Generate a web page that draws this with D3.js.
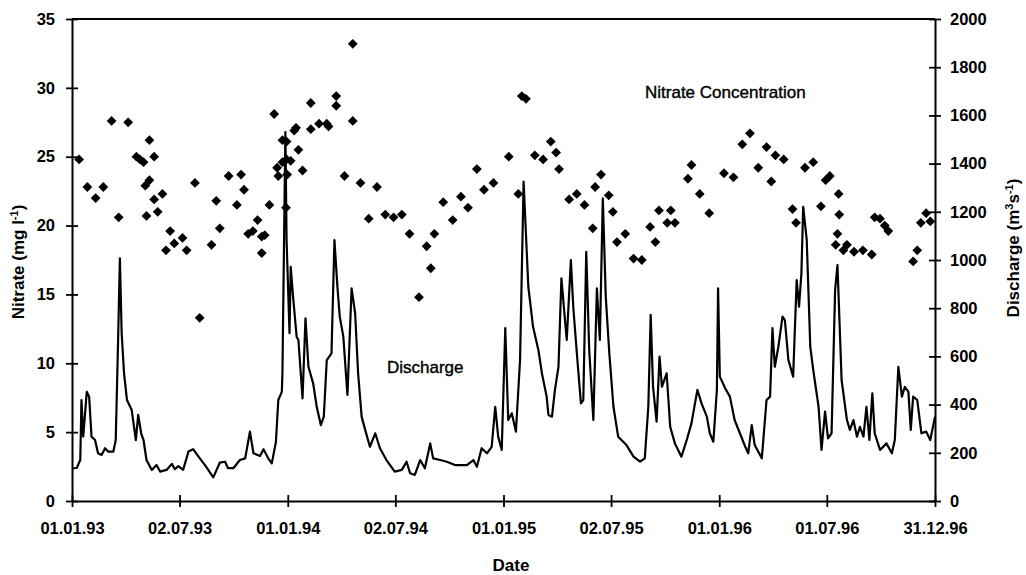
<!DOCTYPE html>
<html>
<head>
<meta charset="utf-8">
<script src="https://cdn.jsdelivr.net/npm/d3@7"></script>
<style>
  body { margin: 0; background: #fff; }
  svg { display: block; font-family: "Liberation Sans", Arial, sans-serif; }
</style>
</head>
<body>
<svg></svg>
<script>
// days counted from 01.01.93
let nitrateDay = [12,26,40,53,67,79,95,109,115,121,124,126,131,131,139,139,145,153,159,166,173,187,194,208,216,236,244,250,265,279,286,291,298,306,314,321,321,326,334,342,347,349,356,356,362,363,363,364,370,376,379,383,390,404,404,418,431,434,447,447,461,475,475,488,502,516,530,544,558,571,587,600,607,613,628,644,658,670,685,697,713,739,755,761,768,783,797,810,819,824,841,854,867,881,885,895,908,915,922,936,950,964,978,987,993,1007,1013,1020,1042,1048,1062,1078,1103,1119,1134,1147,1161,1175,1183,1190,1204,1219,1225,1240,1254,1267,1275,1282,1292,1295,1297,1298,1305,1311,1323,1338,1353,1358,1367,1375,1381,1423,1430,1436,1445,1452]
let nitrateValue = [24.8,22.8,22.0,22.8,27.6,20.6,27.5,25.0,24.8,24.6,22.9,20.7,26.2,23.3,25.0,21.9,21.0,22.3,18.2,19.6,18.7,19.1,18.2,23.1,13.3,18.6,21.8,19.8,23.6,21.5,23.7,22.6,19.4,19.6,20.4,19.2,18.0,19.3,21.5,28.1,24.2,23.6,26.2,24.6,21.3,26.1,24.8,23.7,24.7,26.9,27.1,25.5,24.0,28.9,27.0,27.4,27.4,27.2,29.4,28.7,23.6,33.2,27.6,23.1,20.5,22.8,20.8,20.6,20.8,19.4,14.8,18.5,16.9,19.4,21.7,20.4,22.1,21.3,24.1,22.6,23.1,25.0,22.3,29.4,29.2,25.1,24.8,26.1,25.3,24.1,21.9,22.3,21.5,19.8,22.8,23.7,22.2,21.0,18.8,19.4,17.6,17.5,19.9,18.8,21.1,20.2,21.1,20.2,23.4,24.4,22.3,20.9,23.8,23.5,25.9,26.7,24.2,25.7,23.2,25.1,24.8,21.2,20.2,24.2,24.6,21.4,23.3,23.6,18.6,19.4,22.3,20.8,18.2,18.6,18.1,18.2,17.9,20.6,20.5,20.0,19.6,17.4,18.2,20.2,20.9,20.3]

let dischargeDay = [2,8,14,16,19,25,29,33,39,44,50,56,61,70,74,78,81,84,88,93,101,108,112,117,121,126,135,143,149,160,169,174,180,188,197,205,214,225,239,250,259,264,273,284,293,301,307,318,324,332,338,345,349,355,356,361,363,368,370,374,380,383,390,395,400,408,414,421,426,431,439,444,449,453,459,466,473,479,484,490,496,504,513,521,532,546,558,566,572,580,589,597,606,611,623,634,648,668,679,685,693,702,710,716,721,727,733,738,744,751,758,764,772,780,789,795,803,806,812,817,823,828,834,837,844,848,855,861,865,870,875,882,888,893,898,903,909,916,924,938,950,961,969,975,979,983,989,994,998,1006,1012,1020,1031,1040,1048,1058,1065,1074,1079,1085,1091,1093,1096,1105,1113,1121,1130,1139,1144,1150,1155,1167,1175,1181,1185,1189,1195,1202,1206,1212,1220,1226,1230,1234,1237,1243,1249,1254,1263,1268,1274,1279,1285,1291,1295,1302,1311,1316,1322,1328,1333,1339,1344,1349,1354,1358,1367,1378,1387,1392,1398,1404,1409,1415,1419,1423,1430,1437,1445,1452,1460]
let dischargeValue = [136,137,170,419,267,453,433,267,253,198,191,219,205,205,253,668,1007,697,531,419,378,253,357,281,253,170,129,149,122,129,154,132,145,129,205,215,184,149,98,159,163,136,136,170,177,288,198,187,215,177,156,246,419,453,531,1531,1083,696,972,848,682,668,426,758,557,488,391,315,350,585,613,1083,889,765,682,440,882,779,530,350,295,225,281,219,170,122,129,163,115,108,170,136,239,177,170,163,149,149,170,142,219,198,225,391,267,212,717,336,364,288,585,1325,889,723,627,530,433,357,350,461,557,924,751,668,1000,806,585,405,419,1034,627,336,882,668,1256,848,613,391,267,232,184,163,177,391,772,474,329,599,474,530,308,239,184,253,322,461,405,350,281,246,461,882,516,468,433,336,281,225,198,315,232,177,419,433,717,557,640,765,751,585,516,917,806,945,1221,1083,640,544,391,212,371,260,281,875,979,502,336,295,336,267,308,267,391,253,447,281,212,239,198,253,557,433,474,453,295,433,419,281,288,253,350]

let nitrateTicks = [0,5,10,15,20,25,30,35]
let dischargeTicks = [0,200,400,600,800,1000,1200,1400,1600,1800,2000]
let dateTicks = ['01.01.93','02.07.93','01.01.94','02.07.94','01.01.95','02.07.95','01.01.96','01.07.96','31.12.96']

let width = 1026
let height = 575
let plotLeft = 72, plotRight = 935, plotTop = 19, plotBottom = 501

let svg = d3.select('svg').attr('width', width).attr('height', height)

let parseDate = d3.utcParse('%d.%m.%y')
let start = parseDate('01.01.93')
let toDate = (n) => d3.utcDay.offset(start, n)

let xScale = d3.scaleUtc()
               .domain([start, parseDate('31.12.96')])
               .range([plotLeft, plotRight])
let yNitrate = d3.scaleLinear().domain([0, 35]).range([plotBottom, plotTop])
let yDischarge = d3.scaleLinear().domain([0, 2000]).range([plotBottom, plotTop])

let tickFont = (g) => {
    g.selectAll('text')
     .style('font-size', '16.5px')
     .style('font-weight', 'bold')
     .style('fill', '#000')
     .style('font-family', '"Liberation Sans", Arial, sans-serif')
    g.select('.domain').attr('stroke', '#000').attr('stroke-width', 2)
    g.selectAll('.tick line').attr('stroke', '#000').attr('stroke-width', 1.8)
}

let drawAxes = () => {
    let xAxis = d3.axisBottom(xScale)
                  .tickValues(dateTicks.map(parseDate))
                  .tickFormat(d3.utcFormat('%d.%m.%y'))
                  .tickSizeInner(6).tickSizeOuter(0).tickPadding(15)
    svg.append('g')
       .attr('transform', 'translate(0,' + plotBottom + ')')
       .call(xAxis)
       .call(tickFont)
       .call(g => g.selectAll('.tick line').attr('y1', -6))

    let leftAxis = d3.axisLeft(yNitrate)
                     .tickValues(nitrateTicks)
                     .tickSizeInner(6).tickSizeOuter(0).tickPadding(11)
    svg.append('g')
       .attr('transform', 'translate(' + plotLeft + ',0)')
       .call(leftAxis)
       .call(tickFont)
       .call(g => g.selectAll('.tick line').attr('x1', 6))

    let rightAxis = d3.axisRight(yDischarge)
                      .tickValues(dischargeTicks)
                      .tickFormat(d3.format('d'))
                      .tickSizeInner(6).tickSizeOuter(0).tickPadding(9)
    svg.append('g')
       .attr('transform', 'translate(' + plotRight + ',0)')
       .call(rightAxis)
       .call(tickFont)
       .call(g => g.selectAll('.tick line').attr('x1', -6))

    // frame top
    svg.append('line')
       .attr('x1', plotLeft).attr('x2', plotRight)
       .attr('y1', plotTop).attr('y2', plotTop)
       .attr('stroke', '#000').attr('stroke-width', 2)

    svg.append('text')
       .attr('x', 511).attr('y', 571)
       .attr('text-anchor', 'middle')
       .style('font-size', '17px').style('font-weight', 'bold')
       .text('Date')

    let yLabel = svg.append('text')
                    .attr('transform', 'translate(24,262) rotate(-90)')
                    .attr('text-anchor', 'middle')
                    .style('font-size', '17px').style('font-weight', 'bold')
    yLabel.append('tspan').text('Nitrate (mg l')
    yLabel.append('tspan').attr('dy', -6).style('font-size', '11px').text('-1')
    yLabel.append('tspan').attr('dy', 6).text(')')

    let y2Label = svg.append('text')
                     .attr('transform', 'translate(1019,248) rotate(-90)')
                     .attr('text-anchor', 'middle')
                     .style('font-size', '17px').style('font-weight', 'bold')
    y2Label.append('tspan').text('Discharge  (m')
    y2Label.append('tspan').attr('dy', -6).style('font-size', '11px').text('3')
    y2Label.append('tspan').attr('dy', 6).text('s')
    y2Label.append('tspan').attr('dy', -6).style('font-size', '11px').text('-1')
    y2Label.append('tspan').attr('dy', 6).text(')')
}

let drawDischarge = () => {
    let points = dischargeDay.map((d, i) => [toDate(d), dischargeValue[i]])
    let line = d3.line()
                 .x(d => xScale(d[0]))
                 .y(d => yDischarge(d[1]))
    svg.append('path')
       .datum(points)
       .attr('d', line)
       .attr('fill', 'none')
       .attr('stroke', '#000')
       .attr('stroke-width', 2.2)
       .attr('stroke-linejoin', 'round')
}

let drawNitrate = () => {
    let diamond = d3.symbol().type(d3.symbolSquare).size(48)
    svg.selectAll('.nitrate')
       .data(nitrateDay)
       .enter()
       .append('path')
       .attr('class', 'nitrate')
       .attr('d', diamond)
       .attr('transform', (d, i) => 'translate(' + xScale(toDate(d)) + ',' + yNitrate(nitrateValue[i]) + ') rotate(45)')
       .attr('fill', '#000')
}

let drawNotes = () => {
    svg.append('text')
       .attr('x', 645).attr('y', 98)
       .style('font-size', '17px')
       .style('stroke', '#000').style('stroke-width', 0.4)
       .text('Nitrate Concentration')
    svg.append('text')
       .attr('x', 387).attr('y', 373)
       .style('font-size', '17px')
       .style('stroke', '#000').style('stroke-width', 0.4)
       .text('Discharge')
}

drawAxes()
drawDischarge()
drawNitrate()
drawNotes()
</script>
</body>
</html>
